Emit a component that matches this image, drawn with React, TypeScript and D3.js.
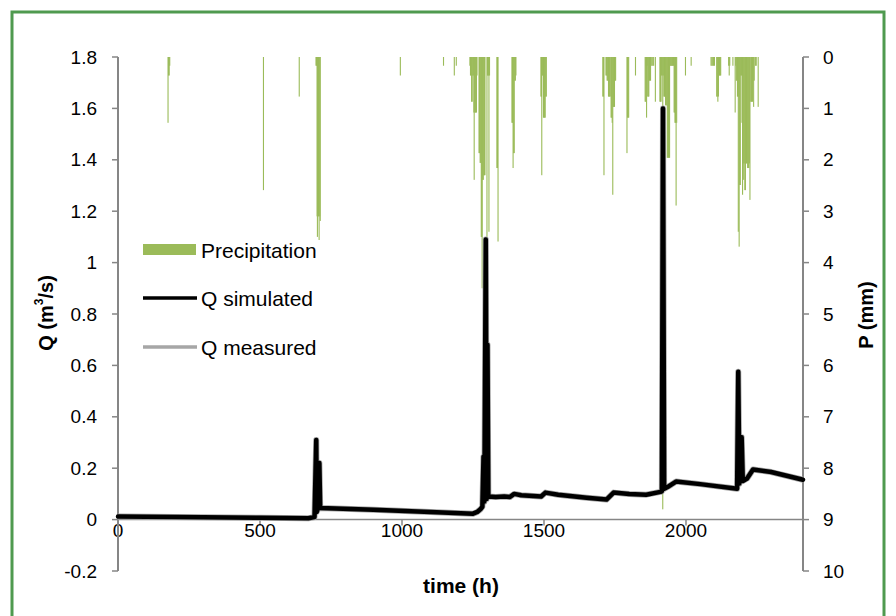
import React from "react";
import * as d3 from "d3";

// time (h), Q (m3/s)
const qSimulated: [number, number][] = [
  [0, 0.012], [100, 0.011], [300, 0.009], [500, 0.007], [670, 0.005], [692, 0.01],
  [698, 0.31], [700, 0.03], [704, 0.045], [709, 0.22], [712, 0.045], [900, 0.038],
  [1100, 0.03], [1250, 0.023], [1265, 0.03], [1276, 0.04], [1283, 0.05], [1287, 0.245],
  [1290, 0.07], [1295, 1.09], [1298, 0.08], [1301, 0.68], [1304, 0.09], [1330, 0.088],
  [1360, 0.09], [1380, 0.088], [1395, 0.1], [1420, 0.095], [1490, 0.09], [1505, 0.105],
  [1550, 0.097], [1650, 0.085], [1720, 0.078], [1745, 0.105], [1800, 0.1], [1860, 0.097],
  [1910, 0.108], [1915, 0.11], [1919, 1.6], [1923, 0.12], [1940, 0.13], [1965, 0.148],
  [2050, 0.138], [2180, 0.12], [2184, 0.575], [2188, 0.14], [2196, 0.32], [2200, 0.15],
  [2215, 0.16], [2236, 0.195], [2300, 0.185], [2412, 0.155],
];
const qMeasured: [number, number][] = qSimulated;

// time (h), P (mm)
const precipitation: [number, number][] = [
  [176, 1.28], [178, 0.36], [180, 0.36], [182, 0.17],
  [512, 2.59], [638, 0.77],
  [697, 0.17], [699, 0.17], [701, 3.1], [702, 3.5], [704, 3.1], [706, 3.1], [708, 3.56], [710, 3.1], [712, 3.19],
  [994, 0.36], [1146, 0.17], [1184, 0.36], [1191, 0.17],
  [1239, 0.17], [1241, 0.36], [1243, 0.36], [1245, 0.87], [1247, 0.87], [1249, 0.36], [1251, 0.36],
  [1253, 1.08], [1254, 2.39], [1256, 1.08], [1258, 1.08], [1260, 1.08], [1262, 1.08], [1264, 0.36],
  [1271, 1.87], [1273, 1.87], [1275, 2.06], [1277, 2.06], [1279, 3.5], [1281, 3.5], [1282, 4.5],
  [1284, 2.39], [1286, 2.39], [1288, 2.3], [1290, 2.3], [1292, 2.3],
  [1299, 3.5], [1301, 0.36], [1303, 0.36], [1305, 0.36], [1306, 3.4], [1308, 0.36],
  [1334, 2.16], [1336, 2.16], [1338, 3.59],
  [1387, 1.28], [1389, 1.28], [1391, 2.16], [1393, 1.87], [1395, 1.87], [1397, 0.46], [1399, 0.46], [1401, 0.36],
  [1489, 0.77], [1491, 0.77], [1492, 2.3], [1494, 0.36], [1496, 0.36], [1498, 1.18], [1500, 1.18],
  [1502, 1.18], [1504, 1.18], [1506, 0.77], [1508, 0.77],
  [1707, 0.77], [1709, 0.77], [1711, 2.3],
  [1718, 0.36], [1720, 0.36], [1722, 0.46], [1724, 0.46], [1727, 0.77], [1729, 0.77], [1731, 0.77],
  [1733, 0.77], [1736, 1.18], [1738, 1.18], [1740, 1.28], [1742, 2.68], [1744, 0.97], [1746, 0.97],
  [1748, 0.97], [1750, 0.46], [1752, 0.46],
  [1792, 1.87], [1794, 1.18], [1796, 1.18], [1798, 1.18],
  [1822, 0.36],
  [1856, 0.87], [1858, 0.87], [1860, 0.17], [1861, 1.18], [1863, 0.17], [1865, 0.77], [1867, 0.77],
  [1869, 0.77], [1871, 0.46], [1873, 0.46], [1875, 0.46], [1877, 0.17], [1880, 0.17], [1883, 0.17], [1886, 0.17],
  [1892, 0.87],
  [1908, 0.87], [1910, 0.87], [1912, 0.87], [1914, 0.36], [1916, 0.36], [1918, 8.8], [1920, 0.36],
  [1922, 0.77], [1924, 0.77], [1926, 0.77], [1928, 0.94], [1930, 0.94], [1932, 0.94], [1934, 1.96],
  [1936, 1.96], [1938, 1.96], [1940, 1.96], [1942, 1.96], [1944, 0.17], [1946, 0.17], [1948, 0.17],
  [1950, 0.17], [1952, 0.17], [1954, 0.17], [1956, 0.17], [1958, 1.08], [1960, 1.08], [1961, 1.28],
  [1963, 1.28], [1965, 2.89], [1967, 1.28],
  [1998, 0.36], [2018, 0.17],
  [2088, 0.17], [2091, 0.17], [2094, 0.17], [2097, 0.17], [2100, 0.17], [2108, 0.77], [2110, 0.77],
  [2112, 0.87], [2114, 0.77], [2116, 0.36], [2118, 0.36], [2120, 0.36], [2122, 0.36],
  [2150, 0.17], [2152, 0.36], [2154, 0.17], [2165, 0.17],
  [2173, 1.08], [2175, 0.17], [2177, 0.46], [2179, 0.46], [2181, 0.77], [2183, 0.77], [2184, 3.4],
  [2186, 0.77], [2187, 3.69], [2189, 2.49], [2191, 2.49], [2193, 0.36], [2195, 0.36], [2197, 1.28],
  [2199, 2.68], [2201, 2.07], [2203, 2.39], [2205, 2.07], [2207, 2.59], [2209, 2.59], [2211, 2.07],
  [2213, 2.07], [2215, 2.07], [2217, 2.16], [2219, 2.16], [2221, 2.16], [2223, 2.07], [2225, 2.78],
  [2228, 0.87], [2230, 0.87], [2232, 0.87], [2234, 0.87], [2236, 0.46], [2238, 0.97], [2240, 0.46],
  [2245, 0.17], [2247, 0.17], [2254, 0.97],
];

const xTicks = [0, 500, 1000, 1500, 2000];
const qTicks = ["-0.2", "0", "0.2", "0.4", "0.6", "0.8", "1", "1.2", "1.4", "1.6", "1.8"];
const pTicks = [0, 1, 2, 3, 4, 5, 6, 7, 8, 9, 10];

const FONT = "'Liberation Sans', Arial, sans-serif";
const AXIS = "#868686";
const GREEN = "#9bbb59";

export default function App() {
  const x = d3.scaleLinear().domain([0, 2412]).range([118, 803]);
  const yQ = d3.scaleLinear().domain([-0.2, 1.8]).range([571, 57]);
  const yP = d3.scaleLinear().domain([0, 10]).range([57, 571]);
  const line = d3
    .line<[number, number]>()
    .x((d) => x(d[0]))
    .y((d) => yQ(d[1]));
  const barW = Math.max(1.1, x(1) - x(0));

  return (
    <svg
      width={896}
      height={616}
      style={{ position: "absolute", left: 0, top: 0, background: "#fff" }}
      fontFamily={FONT}
    >
      <rect x={0} y={0} width={896} height={616} fill="#fff" />
      <rect x={12} y={12} width={872} height={612} fill="none" stroke="#4f9a4f" strokeWidth={3} />

      {/* precipitation bars */}
      <g fill={GREEN}>
        {precipitation.map(([t, p], i) => (
          <rect key={i} x={x(t) - 0.5} y={yP(0)} width={barW} height={yP(p) - yP(0)} />
        ))}
      </g>

      {/* x axis at Q = 0 */}
      <line x1={x(0)} x2={x(2412)} y1={yQ(0)} y2={yQ(0)} stroke={AXIS} strokeWidth={1.5} />
      {xTicks.map((t) => (
        <g key={t}>
          <line x1={x(t)} x2={x(t)} y1={yQ(0)} y2={yQ(0) + 6} stroke={AXIS} strokeWidth={1.5} />
          <text x={x(t)} y={yQ(0) + 4} textAnchor="middle" dominantBaseline="hanging" fontSize={19}>
            {t}
          </text>
        </g>
      ))}

      {/* left axis */}
      <line x1={118} x2={118} y1={yQ(1.8)} y2={yQ(-0.2)} stroke={AXIS} strokeWidth={2} />
      {qTicks.map((s) => (
        <g key={s}>
          <line x1={112} x2={118} y1={yQ(+s)} y2={yQ(+s)} stroke={AXIS} strokeWidth={1.5} />
          <text x={97} y={yQ(+s)} textAnchor="end" dominantBaseline="central" fontSize={19}>
            {s}
          </text>
        </g>
      ))}

      {/* right axis */}
      <line x1={803} x2={803} y1={yP(0)} y2={yP(10)} stroke={AXIS} strokeWidth={2} />
      {pTicks.map((v) => (
        <g key={v}>
          <line x1={803} x2={809} y1={yP(v)} y2={yP(v)} stroke={AXIS} strokeWidth={1.5} />
          <text x={823} y={yP(v)} textAnchor="start" dominantBaseline="central" fontSize={19}>
            {v}
          </text>
        </g>
      ))}

      {/* Q lines */}
      <path d={line(qMeasured) ?? ""} fill="none" stroke="#a6a6a6" strokeWidth={6} strokeLinejoin="round" />
      <path d={line(qSimulated) ?? ""} fill="none" stroke="#000" strokeWidth={4.5} strokeLinejoin="round" strokeLinecap="round" />

      {/* axis titles */}
      <text
        transform="translate(46,313) rotate(-90)"
        textAnchor="middle"
        dominantBaseline="central"
        fontSize={20}
        fontWeight="bold"
      >
        Q (m<tspan baselineShift="super" fontSize={12}>3</tspan>/s)
      </text>
      <text
        transform="translate(866,315) rotate(-90)"
        textAnchor="middle"
        dominantBaseline="central"
        fontSize={20}
        fontWeight="bold"
      >
        P (mm)
      </text>
      <text x={461} y={585} textAnchor="middle" dominantBaseline="central" fontSize={21} fontWeight="bold">
        time (h)
      </text>

      {/* legend */}
      <rect x={143} y={244} width={53} height={11} fill={GREEN} />
      <text x={201} y={250} dominantBaseline="central" fontSize={21}>Precipitation</text>
      <line x1={143} x2={197} y1={298} y2={298} stroke="#000" strokeWidth={3.5} />
      <text x={201} y={298} dominantBaseline="central" fontSize={21}>Q simulated</text>
      <line x1={143} x2={197} y1={347} y2={347} stroke="#a6a6a6" strokeWidth={3.5} />
      <text x={201} y={347} dominantBaseline="central" fontSize={21}>Q measured</text>
    </svg>
  );
}
